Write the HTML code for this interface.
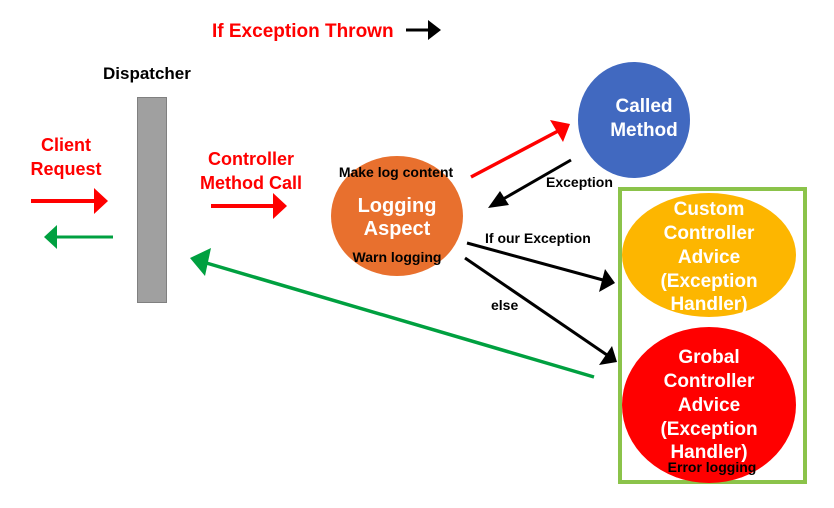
<!DOCTYPE html>
<html><head><meta charset="utf-8"><style>
html,body{margin:0;padding:0;background:#fff;}
svg{display:block;}
text{font-family:"Liberation Sans","Noto Sans CJK KR",sans-serif;font-weight:bold;}
</style></head><body>
<svg width="834" height="508" viewBox="0 0 834 508" xmlns="http://www.w3.org/2000/svg">
<defs>
<marker id="ar" markerWidth="10" markerHeight="10" refX="8" refY="5" orient="auto" markerUnits="userSpaceOnUse"><path d="M0,0 L10,5 L0,10z" fill="#f00"/></marker>
</defs>
<!-- title -->
<text x="212" y="37" font-size="19" fill="#f00">If Exception Thrown</text>
<line x1="406" y1="30" x2="430" y2="30" stroke="#000" stroke-width="3"/>
<path d="M428,20 L441,30 L428,40z" fill="#000"/>
<!-- dispatcher -->
<text x="103" y="79" font-size="17" fill="#000">Dispatcher</text>
<rect x="137.5" y="97.5" width="29" height="205" fill="#a0a0a0" stroke="#808080" stroke-width="1"/>
<!-- client request -->
<text font-size="18" fill="#f00" text-anchor="middle"><tspan x="66" y="151">Client</tspan><tspan x="66" y="175">Request</tspan></text>
<line x1="31" y1="201" x2="96" y2="201" stroke="#f00" stroke-width="4"/>
<path d="M94,188 L108,201 L94,214z" fill="#f00"/>
<line x1="113" y1="237" x2="56" y2="237" stroke="#00a040" stroke-width="3"/>
<path d="M57,225 L44,237 L57,249z" fill="#00a040"/>
<!-- controller method call -->
<text font-size="18" fill="#f00" text-anchor="middle"><tspan x="251" y="165">Controller</tspan><tspan x="251" y="189">Method Call</tspan></text>
<line x1="211" y1="206" x2="275" y2="206" stroke="#f00" stroke-width="4"/>
<path d="M273,193 L287,206 L273,219z" fill="#f00"/>
<!-- logging aspect -->
<ellipse cx="397" cy="216" rx="66" ry="60" fill="#e8702e"/>
<text font-size="20" fill="#fff" text-anchor="middle"><tspan x="397" y="212">Logging</tspan><tspan x="397" y="235">Aspect</tspan></text>
<text x="396" y="177" font-size="14" fill="#000" text-anchor="middle">Make log content</text>
<text x="397" y="262" font-size="14" fill="#000" text-anchor="middle">Warn logging</text>
<!-- called method -->
<ellipse cx="634" cy="120" rx="56" ry="58" fill="#4169c0"/>
<text font-size="19" fill="#fff" text-anchor="middle"><tspan x="644" y="112">Called</tspan><tspan x="644" y="136">Method</tspan></text>
<!-- red arrow to called method -->
<line x1="471" y1="177" x2="560" y2="130" stroke="#f00" stroke-width="3.5"/>
<path d="M550,120 L570,124 L563,142z" fill="#f00"/>
<!-- exception arrow -->
<line x1="571" y1="160" x2="498" y2="202" stroke="#000" stroke-width="3"/>
<path d="M488,208 L500,191 L509,205z" fill="#000"/>
<text x="546" y="187" font-size="14" fill="#000">Exception</text>
<!-- if our exception -->
<line x1="467" y1="243" x2="603" y2="280" stroke="#000" stroke-width="3"/>
<path d="M615,283 L599,292 L605,269z" fill="#000"/>
<text x="485" y="243" font-size="14" fill="#000">If our Exception</text>
<!-- else -->
<line x1="465" y1="258" x2="607" y2="355" stroke="#000" stroke-width="3"/>
<path d="M617,362 L599,365 L612,346z" fill="#000"/>
<text x="491" y="310" font-size="14" fill="#000">else</text>
<!-- green box -->
<rect x="620" y="189" width="185" height="293" fill="none" stroke="#8bc34a" stroke-width="4"/>
<ellipse cx="709" cy="255" rx="87" ry="62" fill="#fdb600"/>
<text font-size="19" fill="#fff" text-anchor="middle"><tspan x="709" y="215">Custom</tspan><tspan x="709" y="239">Controller</tspan><tspan x="709" y="263">Advice</tspan><tspan x="709" y="287">(Exception</tspan><tspan x="709" y="310">Handler)</tspan></text>
<ellipse cx="709" cy="405" rx="87" ry="78" fill="#f00"/>
<text font-size="19" fill="#fff" text-anchor="middle"><tspan x="709" y="363">Grobal</tspan><tspan x="709" y="387">Controller</tspan><tspan x="709" y="411">Advice</tspan><tspan x="709" y="435">(Exception</tspan><tspan x="709" y="458">Handler)</tspan></text>
<text x="712" y="472" font-size="14" fill="#000" text-anchor="middle">Error logging</text>
<!-- green long return arrow -->
<line x1="594" y1="377" x2="203" y2="262" stroke="#00a040" stroke-width="3.5"/>
<path d="M190,258 L211,248 L205,276z" fill="#00a040"/>
</svg>
</body></html>
